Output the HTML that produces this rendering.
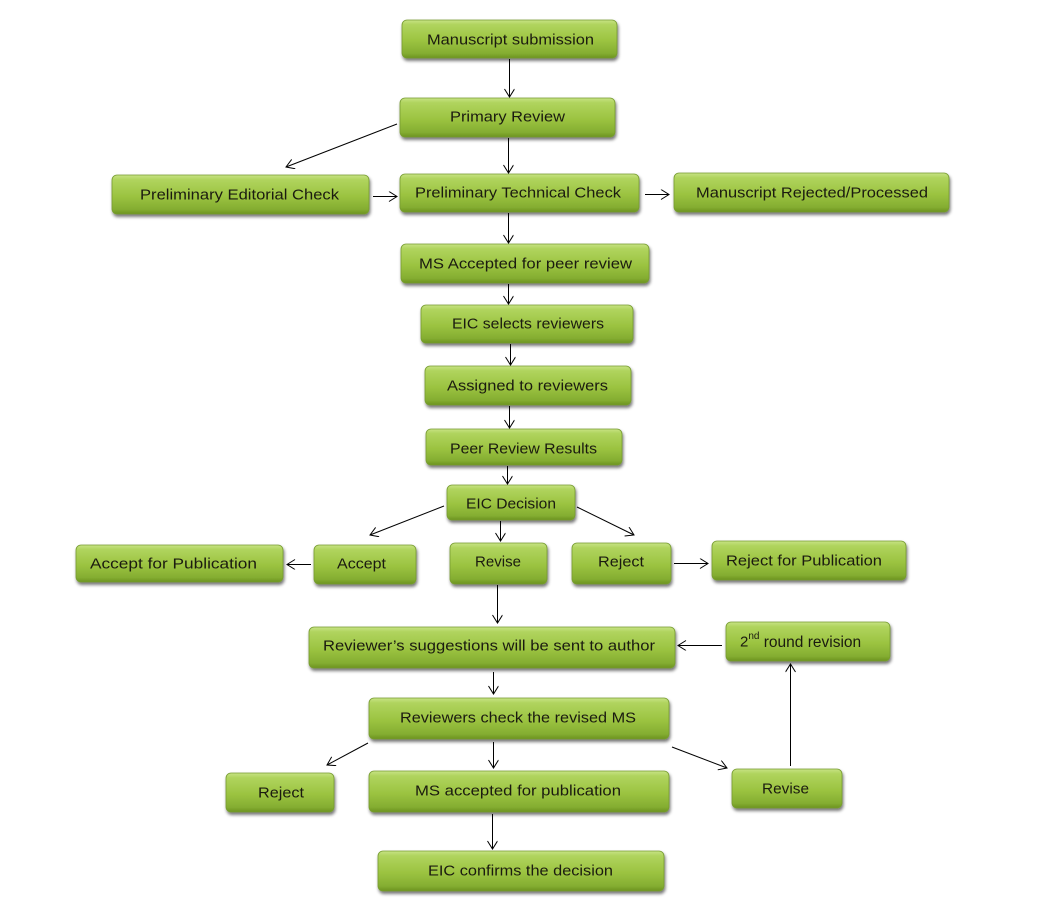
<!DOCTYPE html>
<html>
<head>
<meta charset="utf-8">
<style>
html,body{margin:0;padding:0;background:#fff;}
svg{display:block;}
text{font-family:"Liberation Sans",sans-serif;font-size:15px;fill:#1b1b10;dominant-baseline:central;text-anchor:start;}
</style>
</head>
<body>
<svg width="1043" height="921" viewBox="0 0 1043 921" xmlns="http://www.w3.org/2000/svg">
<defs>
<linearGradient id="g" x1="0" y1="0" x2="0" y2="1">
<stop offset="0" stop-color="#c8e385"/>
<stop offset="0.12" stop-color="#b0d45e"/>
<stop offset="0.55" stop-color="#9bc340"/>
<stop offset="0.88" stop-color="#84ad31"/>
<stop offset="1" stop-color="#6c9320"/>
</linearGradient>
<filter id="sh" x="-10%" y="-20%" width="120%" height="160%">
<feGaussianBlur in="SourceAlpha" stdDeviation="1.6"/>
<feOffset dx="1" dy="2.5" result="b"/>
<feComponentTransfer><feFuncA type="linear" slope="0.55"/></feComponentTransfer>
<feMerge><feMergeNode/><feMergeNode in="SourceGraphic"/></feMerge>
</filter>
<marker id="a" markerWidth="12" markerHeight="12" refX="9" refY="5" orient="auto" markerUnits="userSpaceOnUse">
<path d="M1,0 L9,5 L1,10" fill="none" stroke="#000" stroke-width="1"/>
</marker>
</defs>

<g filter="url(#sh)" fill="url(#g)" stroke="#779c30" stroke-width="0.8">
<rect x="402" y="20" width="215" height="38" rx="5"/>
<rect x="400" y="98" width="215" height="39" rx="5"/>
<rect x="112" y="175" width="257" height="39" rx="5"/>
<rect x="400" y="174" width="239" height="38" rx="5"/>
<rect x="674" y="173" width="275" height="39" rx="5"/>
<rect x="401" y="244" width="248" height="39" rx="5"/>
<rect x="421" y="305" width="212" height="38" rx="5"/>
<rect x="425" y="366" width="206" height="39" rx="5"/>
<rect x="426" y="429" width="196" height="36" rx="5"/>
<rect x="447" y="485" width="128" height="35" rx="5"/>
<rect x="76" y="545" width="207" height="37" rx="5"/>
<rect x="314" y="545" width="102" height="39" rx="5"/>
<rect x="450" y="543" width="97" height="41" rx="5"/>
<rect x="572" y="543" width="99" height="41" rx="5"/>
<rect x="712" y="541" width="194" height="39" rx="5"/>
<rect x="309" y="627" width="366" height="41" rx="5"/>
<rect x="726" y="622" width="164" height="39" rx="5"/>
<rect x="369" y="698" width="300" height="41" rx="5"/>
<rect x="226" y="773" width="108" height="39" rx="5"/>
<rect x="369" y="771" width="300" height="41" rx="5"/>
<rect x="732" y="769" width="110" height="39" rx="5"/>
<rect x="378" y="851" width="286" height="40" rx="5"/>
</g>

<g>
<text x="427" y="40" textLength="167" lengthAdjust="spacingAndGlyphs">Manuscript submission</text>
<text x="450" y="117" textLength="115" lengthAdjust="spacingAndGlyphs">Primary Review</text>
<text x="140" y="195" textLength="199" lengthAdjust="spacingAndGlyphs">Preliminary Editorial Check</text>
<text x="415" y="193" textLength="206" lengthAdjust="spacingAndGlyphs">Preliminary Technical Check</text>
<text x="696" y="193" textLength="232" lengthAdjust="spacingAndGlyphs">Manuscript Rejected/Processed</text>
<text x="419" y="264" textLength="213" lengthAdjust="spacingAndGlyphs">MS Accepted for peer review</text>
<text x="452" y="324" textLength="152" lengthAdjust="spacingAndGlyphs">EIC selects reviewers</text>
<text x="447" y="386" textLength="161" lengthAdjust="spacingAndGlyphs">Assigned to reviewers</text>
<text x="450" y="449" textLength="147" lengthAdjust="spacingAndGlyphs">Peer Review Results</text>
<text x="466" y="504" textLength="90" lengthAdjust="spacingAndGlyphs">EIC Decision</text>
<text x="90" y="564" textLength="167" lengthAdjust="spacingAndGlyphs">Accept  for Publication</text>
<text x="337" y="564" textLength="49" lengthAdjust="spacingAndGlyphs">Accept</text>
<text x="475" y="562" textLength="46" lengthAdjust="spacingAndGlyphs">Revise</text>
<text x="598" y="562" textLength="46" lengthAdjust="spacingAndGlyphs">Reject</text>
<text x="726" y="561" textLength="156" lengthAdjust="spacingAndGlyphs">Reject for Publication</text>
<text x="323" y="646" textLength="332" lengthAdjust="spacingAndGlyphs">Reviewer’s suggestions will be sent to author</text>
<text x="740" y="642" font-size="16">2<tspan dy="-6" font-size="10">nd</tspan><tspan dy="6" font-size="15.5"> round revision</tspan></text>
<text x="400" y="718" textLength="236" lengthAdjust="spacingAndGlyphs">Reviewers check the revised MS</text>
<text x="258" y="793" textLength="46" lengthAdjust="spacingAndGlyphs">Reject</text>
<text x="415" y="791" textLength="206" lengthAdjust="spacingAndGlyphs">MS accepted for publication</text>
<text x="762" y="789" textLength="47" lengthAdjust="spacingAndGlyphs">Revise</text>
<text x="428" y="871" textLength="185" lengthAdjust="spacingAndGlyphs">EIC confirms the decision</text>
</g>

<g stroke="#000" stroke-width="1" fill="none" marker-end="url(#a)">
<line x1="509.5" y1="59" x2="509.5" y2="97"/>
<line x1="397" y1="124" x2="286" y2="167"/>
<line x1="508.5" y1="138" x2="508.5" y2="173"/>
<line x1="373" y1="196.5" x2="397" y2="196.5"/>
<line x1="645" y1="194.5" x2="669" y2="194.5"/>
<line x1="508.5" y1="213" x2="508.5" y2="243"/>
<line x1="508.5" y1="284" x2="508.5" y2="304"/>
<line x1="510.5" y1="344" x2="510.5" y2="365"/>
<line x1="509.5" y1="406" x2="509.5" y2="428"/>
<line x1="507.5" y1="466" x2="507.5" y2="484"/>
<line x1="444" y1="506" x2="370" y2="535"/>
<line x1="500.5" y1="521" x2="500.5" y2="541"/>
<line x1="577" y1="507" x2="634" y2="535"/>
<line x1="311" y1="564.5" x2="287" y2="564.5"/>
<line x1="674" y1="563.5" x2="708" y2="563.5"/>
<line x1="497.5" y1="585" x2="497.5" y2="623"/>
<line x1="722" y1="645.5" x2="678" y2="645.5"/>
<line x1="493.5" y1="672" x2="493.5" y2="694"/>
<line x1="368" y1="743" x2="327" y2="765"/>
<line x1="493.5" y1="742" x2="493.5" y2="768"/>
<line x1="672" y1="747" x2="727" y2="768"/>
<line x1="790.5" y1="766" x2="790.5" y2="664"/>
<line x1="492.5" y1="814" x2="492.5" y2="849"/>
</g>
</svg>
</body>
</html>
